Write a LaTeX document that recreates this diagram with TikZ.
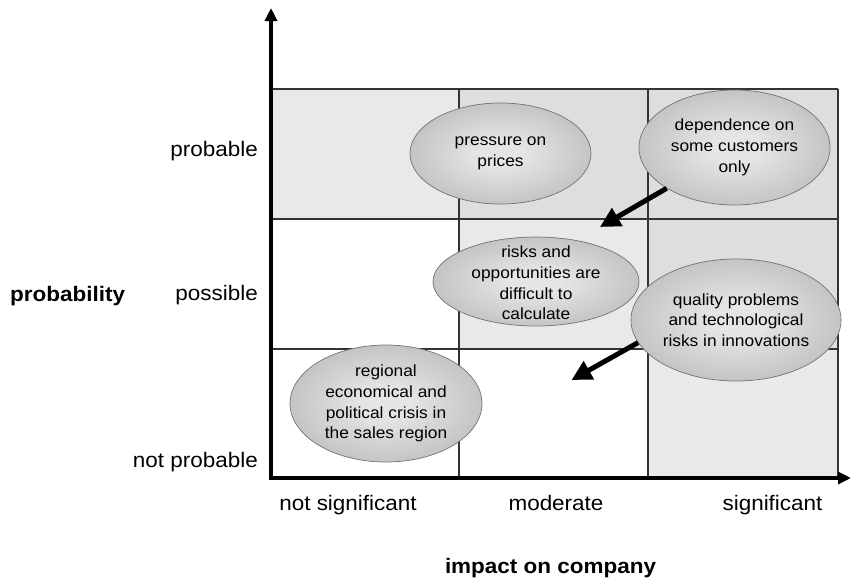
\documentclass[tikz,border=0pt]{standalone}
\usepackage{fontspec}
\setmainfont{Liberation Sans}[FakeStretch=1.07]
\usetikzlibrary{shapes.geometric,arrows.meta}
\definecolor{cellA}{gray}{0.914}
\definecolor{cellB}{gray}{0.871}
\definecolor{ecen}{gray}{0.90}
\definecolor{eedge}{gray}{0.77}
\definecolor{eborder}{gray}{0.45}
\pgfdeclareradialshading{ellshade}{\pgfpoint{0bp}{0bp}}{color(0bp)=(ecen); color(6bp)=(ecen); color(25bp)=(eedge); color(50bp)=(eedge)}
\begin{document}
\begin{tikzpicture}[x=1pt,y=-1pt,
  axisline/.style={line width=3.2pt, arrows={Triangle[length=13pt,width=12pt]-Triangle[length=13pt,width=12pt]}},
  gridline/.style={line width=1.2pt, draw=black!80},
  ell/.style={ellipse, draw=eborder, line width=0.7pt, shading=ellshade, inner sep=0pt},
  etext/.style={align=center, font=\fontsize{16.2}{20.7}\selectfont, inner sep=0pt},
  axlabel/.style={font=\fontsize{21}{25}\selectfont, inner sep=0pt},
  axbold/.style={font=\fontsize{21}{25}\selectfont\bfseries, inner sep=0pt},
  bigarrow/.style={line width=5pt, -{Triangle[length=20pt,width=20pt]}}]
\useasboundingbox (0,0) rectangle (852,582);
% cells
\fill[cellA] (271,89) rectangle (459,219);
\fill[cellB] (459,89) rectangle (648,219);
\fill[cellB] (648,89) rectangle (838,219);
\fill[cellA] (459,219) rectangle (648,349);
\fill[cellB] (648,219) rectangle (838,349);
\fill[cellA] (648,349) rectangle (838,478);
% grid
\draw[gridline] (271,89) -- (838,89);
\draw[gridline] (271,219) -- (838,219);
\draw[gridline] (271,349) -- (838,349);
\draw[gridline] (459,89) -- (459,478);
\draw[gridline] (648,89) -- (648,478);
\draw[gridline] (838,89) -- (838,478);
% ellipses
\node[ell, minimum width=181pt, minimum height=101pt] (pres) at (500.5,153.5) {};
\node[etext] at (pres.center) {pressure on\\prices};
\node[ell, minimum width=191pt, minimum height=115pt] (dep) at (734.5,147.5) {};
\node[etext] at (dep.center) {dependence on\\some customers\\only};
\node[ell, minimum width=206pt, minimum height=89pt] (risks) at (536,281.5) {};
\node[etext] at ([yshift=-1.5pt]risks.center) {risks and\\opportunities are\\difficult to\\calculate};
\node[ell, minimum width=210pt, minimum height=122pt] (qual) at (736,320) {};
\node[etext] at (qual.center) {quality problems\\and technological\\risks in innovations};
\node[ell, minimum width=192pt, minimum height=117pt] (reg) at (386,403.5) {};
\node[etext] at (reg.center) {regional\\economical and\\political crisis in\\the sales region};
% arrows
\coordinate (t1) at (600,227);
\coordinate (t2) at (571.5,380);
\draw[bigarrow] (dep.211) -- (t1);
\draw[bigarrow] (qual.193) -- (t2);
% axes
\coordinate (O) at (271,478);
\coordinate (ytop) at (271,8);
\coordinate (xend) at (851,478);
\draw[axisline] (ytop) -- (O) -- (xend);
% labels
\node[axlabel, anchor=base east] (lprob) at (258,156) {probable};
\node[axlabel, anchor=base east] (lposs) at (258,300.7) {possible};
\node[axlabel, anchor=base east] (lnot) at (258,467) {not probable};
\node[axbold, anchor=base west] (lprobability) at (10,301.5) {probability};
\node[axlabel, anchor=base] (lns) at (348,510) {not significant};
\node[axlabel, anchor=base] (lmod) at (556,510) {moderate};
\node[axlabel, anchor=base] (lsig) at (772.5,510) {significant};
\node[axbold, anchor=base] (limpact) at (550.5,573) {impact on company};
\end{tikzpicture}
\end{document}
